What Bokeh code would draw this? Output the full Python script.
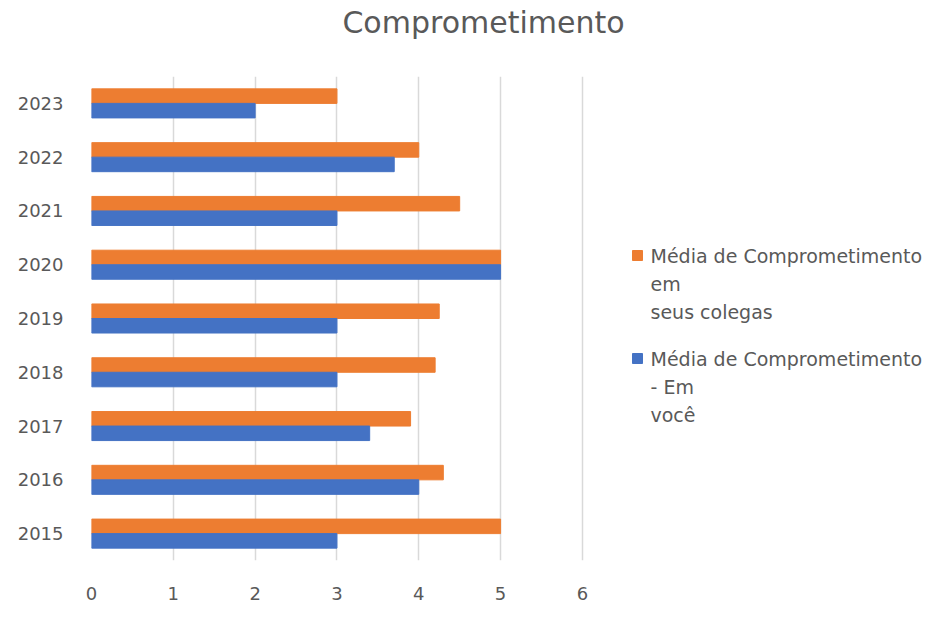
from bokeh.plotting import figure
from bokeh.layouts import column, row
from bokeh.models import ColumnDataSource, FactorRange, Range1d, FixedTicker
from bokeh.core.properties import value
from bokeh.transform import dodge
from bokeh.embed import file_html
from bokeh.resources import INLINE

years = ["2015", "2016", "2017", "2018", "2019", "2020", "2021", "2022", "2023"]
em_voce = [3, 4, 3.4, 3, 3, 5, 3, 3.7, 2]
seus_colegas = [5, 4.3, 3.9, 4.2, 4.25, 5, 4.5, 4, 3]
x_ticks = [0, 1, 2, 3, 4, 5, 6]
title_text = "Comprometimento"
legend_colegas = ["Média de Comprometimento", "em", "seus colegas"]
legend_voce = ["Média de Comprometimento", "- Em", "você"]

ORANGE = "#ED7D31"
BLUE = "#4472C4"
GREY = "#595959"
FONT = "DejaVu Sans"


def blank_fig(w, h, xr, yr, **kw):
    fig = figure(width=w, height=h, x_range=xr, y_range=yr, output_backend="svg",
                 toolbar_location=None, x_axis_location=None, y_axis_location=None,
                 min_border=0, **kw)
    fig.grid.visible = False
    fig.outline_line_color = None
    return fig


# ---- title strip ----
tfig = blank_fig(946, 60, Range1d(0, 946), Range1d(60, 0))
tfig.text(x=[483], y=[22], text=[title_text], text_align="center", text_baseline="middle",
          text_font=value(FONT), text_font_size="30px", text_color=GREY)

# ---- main chart ----
src = ColumnDataSource(dict(year=years, voce=em_voce, colegas=seus_colegas))
p = figure(width=600, height=562, y_range=FactorRange(factors=years, range_padding=0),
           x_range=Range1d(0, 6.05), output_backend="svg", toolbar_location=None,
           min_border_left=91, min_border_right=14, min_border_top=16, min_border_bottom=62)
p.outline_line_color = None

p.hbar(y=dodge("year", 0.135, range=p.y_range), right="colegas", left=0, height=0.27,
       color=ORANGE, source=src)
p.hbar(y=dodge("year", -0.135, range=p.y_range), right="voce", left=0, height=0.27,
       color=BLUE, source=src)

p.ygrid.grid_line_color = None
p.xgrid.grid_line_color = "#d9d9d9"
p.xgrid.grid_line_width = 1.5
p.xaxis.ticker = FixedTicker(ticks=x_ticks)

for ax in (p.xaxis[0], p.yaxis[0]):
    ax.axis_line_color = None
    ax.major_tick_line_color = None
    ax.minor_tick_line_color = None
    ax.major_label_text_color = GREY
    ax.major_label_text_font = FONT
    ax.major_label_text_font_size = "18px"
p.xaxis.major_label_standoff = 20
p.yaxis.major_label_standoff = 22

# ---- legend panel; its frame is aligned with the chart frame (page y 76..560) ----
lfig = blank_fig(346, 562, Range1d(600, 946), Range1d(560, 76),
                 min_border_top=16, min_border_bottom=62)


def add_entry(lines, color, top_y):
    lfig.scatter(x=[637], y=[top_y], marker="square", size=10, color=color)
    ys = [top_y + 28 * i for i in range(len(lines))]
    lfig.text(x=[650] * len(lines), y=ys, text=lines, text_align="left",
              text_baseline="middle", text_font=value(FONT), text_font_size="19px",
              text_color=GREY)


add_entry(legend_colegas, ORANGE, 255)
add_entry(legend_voce, BLUE, 358)

layout = column(tfig, row(p, lfig))
open("out.html", "w").write(file_html(layout, INLINE))
